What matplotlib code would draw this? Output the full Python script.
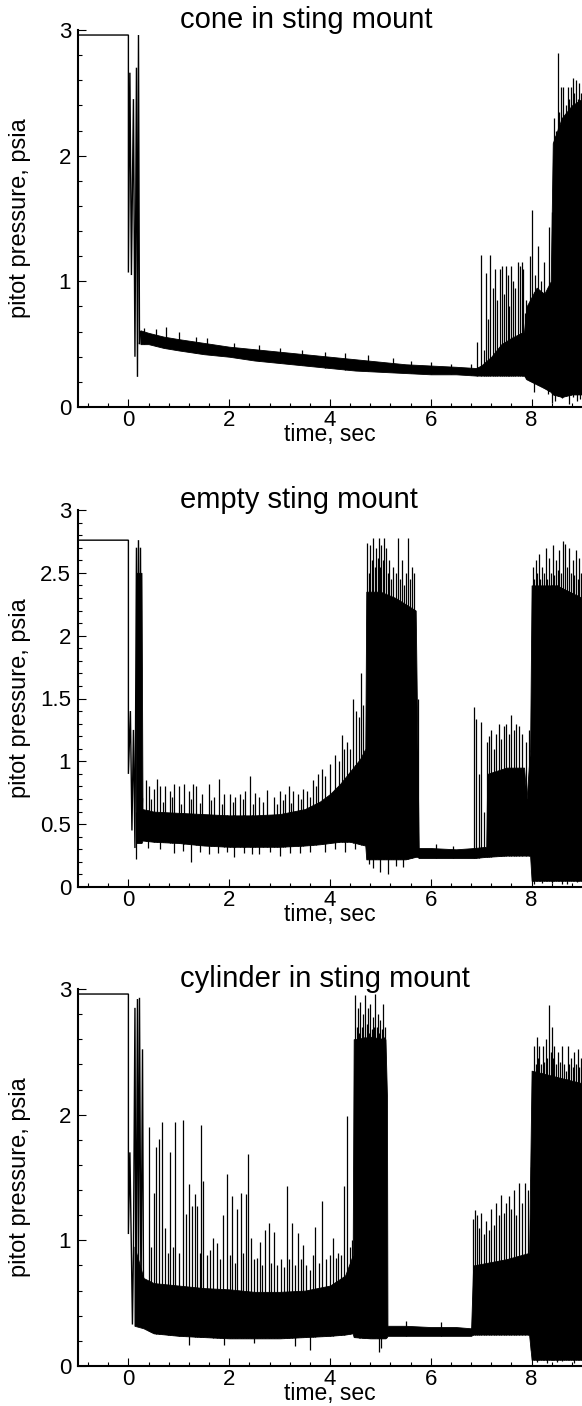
import numpy as np
import matplotlib
matplotlib.use("Agg")
import matplotlib.pyplot as plt
from matplotlib.ticker import FixedLocator, MultipleLocator

# ---------------------------------------------------------------- data
titles = ["cone in sting mount", "empty sting mount", "cylinder in sting mount"]
xlabel = "time, sec"
ylabel = "pitot pressure, psia"
xtick_values = [0, 2, 4, 6, 8]
xtick_labels = ["0", "2", "4", "6", "8"]
ytick_values_a = [0, 1, 2, 3]
ytick_labels_a = ["0", "1", "2", "3"]
ytick_values_b = [0, 0.5, 1, 1.5, 2, 2.5, 3]
ytick_labels_b = ["0", "0.5", "1", "1.5", "2", "2.5", "3"]

# cone in sting mount
cone_start_t = [-1.0, 0.0, 0.0, 0.03, 0.06, 0.10, 0.13, 0.16, 0.18, 0.20, 0.22, 0.24]
cone_start_p = [2.96, 2.96, 1.07, 2.66, 1.05, 2.45, 0.40, 2.70, 0.24, 2.96, 0.50, 0.60]
cone_band_t = [0.24, 0.4, 0.7, 1.0, 1.5, 2.0, 2.5, 3.0, 3.5, 4.0, 4.5, 5.0, 5.5, 6.0,
               6.5, 6.9, 7.0, 7.2, 7.4, 7.6, 7.85, 7.9, 8.1, 8.25, 8.38, 8.42,
               8.6, 8.8, 9.0]
cone_band_lo = [0.50, 0.50, 0.47, 0.45, 0.42, 0.40, 0.37, 0.35, 0.33, 0.31, 0.29, 0.28,
                0.27, 0.26, 0.26, 0.25, 0.25, 0.25, 0.25, 0.25, 0.25, 0.22, 0.18,
                0.15, 0.12, 0.10, 0.08, 0.10, 0.10]
cone_band_hi = [0.61, 0.59, 0.56, 0.54, 0.51, 0.48, 0.46, 0.44, 0.42, 0.40, 0.38, 0.36,
                0.34, 0.33, 0.32, 0.31, 0.33, 0.40, 0.50, 0.55, 0.60, 0.80, 0.95,
                0.90, 1.00, 2.10, 2.30, 2.40, 2.45]
cone_spike_t = [0.30, 0.55, 0.75, 1.00, 1.35, 1.55, 2.10, 2.60, 3.00, 3.45, 3.90, 4.30,
                4.75, 5.25, 5.60, 6.00, 6.40, 6.80,
                6.92, 7.00, 7.05, 7.10, 7.14, 7.18, 7.23, 7.28, 7.31, 7.37, 7.41, 7.45,
                7.49, 7.53, 7.56, 7.60, 7.63, 7.68, 7.73, 7.76, 7.80, 7.83, 7.86, 7.89,
                7.97, 8.01, 8.06, 8.12, 8.18, 8.24, 8.29, 8.34, 8.40,
                8.45, 8.49, 8.52, 8.55, 8.58, 8.62, 8.65, 8.68, 8.72, 8.75, 8.78, 8.82,
                8.85, 8.88, 8.92, 8.95, 8.98]
cone_spike_p = [0.63, 0.62, 0.64, 0.60, 0.56, 0.55, 0.51, 0.49, 0.47, 0.45, 0.44, 0.43,
                0.41, 0.39, 0.37, 0.36, 0.34, 0.34,
                0.52, 1.21, 0.45, 1.07, 0.70, 1.21, 0.95, 1.10, 0.85, 1.10, 1.12, 0.90,
                1.12, 1.05, 0.80, 1.12, 1.00, 0.95, 1.15, 1.12, 1.15, 1.10, 0.75, 0.85,
                1.20, 1.57, 1.05, 1.28, 1.00, 1.15, 0.85, 1.43, 1.00,
                2.30, 2.20, 2.82, 2.35, 2.55, 2.55, 2.30, 2.40, 2.55, 2.45, 2.55, 2.62,
                2.50, 2.60, 2.45, 2.58, 2.50]
cone_dip_t = [8.05, 8.20, 8.32, 8.40, 8.47, 8.53, 8.60, 8.68, 8.75, 8.83, 8.90, 8.97]
cone_dip_p = [0.12, 0.17, 0.10, 0.03, 0.05, 0.12, 0.07, 0.10, 0.02, 0.08, 0.05, 0.06]

# empty sting mount
empty_start_t = [-1.0, 0.0, 0.0, 0.04, 0.07, 0.10, 0.13, 0.16, 0.18, 0.20, 0.22, 0.24, 0.26, 0.28]
empty_start_p = [2.76, 2.76, 0.90, 1.40, 0.45, 1.25, 0.31, 2.70, 0.40, 2.76, 0.35, 2.70, 0.50, 0.70]
empty_band_t = [0.15, 0.16, 0.26, 0.28, 0.5, 1.0, 1.5, 2.0, 2.5, 3.0, 3.5, 3.8, 4.0,
                4.2, 4.4, 4.6, 4.70, 4.72, 5.0, 5.3, 5.5, 5.70, 5.74, 5.76, 6.0, 6.5,
                6.85, 7.10, 7.12, 7.5, 7.85, 7.90, 7.97, 8.0, 8.5, 9.0]
empty_band_lo = [0.35, 0.35, 0.35, 0.37, 0.36, 0.35, 0.33, 0.32, 0.32, 0.32, 0.33, 0.34,
                 0.35, 0.36, 0.36, 0.34, 0.33, 0.22, 0.22, 0.22, 0.22, 0.24, 0.24, 0.23,
                 0.23, 0.23, 0.23, 0.24, 0.24, 0.25, 0.25, 0.25, 0.25, 0.05, 0.05, 0.05]
empty_band_hi = [0.60, 2.50, 2.50, 0.62, 0.60, 0.59, 0.58, 0.57, 0.57, 0.58, 0.62, 0.68,
                 0.74, 0.82, 0.92, 1.02, 1.10, 2.35, 2.35, 2.30, 2.25, 2.20, 0.95, 0.31,
                 0.31, 0.30, 0.31, 0.32, 0.90, 0.95, 0.95, 0.70, 1.10, 2.40, 2.40, 2.30]
empty_spike_t = [0.34, 0.40, 0.50, 0.57, 0.63, 0.73, 0.83, 0.91, 1.00, 1.10, 1.20, 1.28,
                 1.35, 1.46, 1.59, 1.69, 1.79, 1.90, 2.02, 2.12, 2.22, 2.32, 2.42, 2.51,
                 2.60, 2.75, 2.88, 3.00, 3.11, 3.18, 3.27, 3.37, 3.46, 3.54, 3.67, 3.77,
                 3.84, 3.90, 4.00, 4.10, 4.17, 4.23, 4.28, 4.33, 4.40, 4.46, 4.52, 4.57,
                 4.62, 4.66,
                 0.45, 0.68, 0.87, 1.05, 1.24, 1.42, 1.64, 1.85, 2.07, 2.27, 2.47, 2.68,
                 2.94, 3.06, 3.23, 3.42, 3.60, 3.72,
                 4.74, 4.77, 4.80, 4.83, 4.86, 4.89, 4.92, 4.95, 4.97, 5.00, 5.02, 5.05,
                 5.08, 5.12, 5.15, 5.18, 5.22, 5.25, 5.30, 5.35, 5.38, 5.42, 5.46, 5.50,
                 5.55, 5.58, 5.62, 5.67, 5.74, 6.10, 6.45,
                 6.85, 6.90, 6.95, 7.00, 7.05, 7.12, 7.16, 7.20, 7.25, 7.30, 7.35, 7.40,
                 7.45, 7.50, 7.55, 7.60, 7.65, 7.70, 7.75, 7.80, 7.88, 7.95,
                 8.02, 8.05, 8.08, 8.11, 8.14, 8.17, 8.20, 8.24, 8.28, 8.31, 8.35, 8.38,
                 8.42, 8.45, 8.48, 8.52, 8.55, 8.58, 8.62, 8.67, 8.71, 8.75, 8.78, 8.82,
                 8.85, 8.88, 8.92, 8.95, 8.98]
empty_spike_p = [0.85, 0.80, 0.78, 0.86, 0.80, 0.80, 0.76, 0.82, 0.80, 0.82, 0.76, 0.82,
                 0.80, 0.74, 0.82, 0.72, 0.86, 0.74, 0.74, 0.72, 0.74, 0.76, 0.88, 0.75,
                 0.72, 0.77, 0.72, 0.76, 0.74, 0.80, 0.76, 0.74, 0.78, 0.76, 0.85, 0.90,
                 0.94, 0.88, 0.98, 1.05, 1.00, 1.21, 1.10, 1.15, 1.10, 1.50, 1.40, 1.35,
                 1.70, 1.45,
                 0.70, 0.68, 0.72, 0.66, 0.70, 0.67, 0.69, 0.66, 0.68, 0.70, 0.66, 0.68,
                 0.66, 0.69, 0.67, 0.70, 0.72, 0.80,
                 2.74, 2.50, 2.72, 2.60, 2.78, 2.55, 2.70, 2.62, 2.78, 2.55, 2.72, 2.60,
                 2.78, 2.70, 2.50, 2.60, 2.45, 2.55, 2.50, 2.78, 2.45, 2.60, 2.40, 2.50,
                 2.78, 2.45, 2.55, 2.50, 1.50, 0.34, 0.33,
                 1.43, 1.34, 0.90, 1.31, 0.60, 1.15, 1.20, 1.25, 1.10, 1.22, 1.30, 1.18,
                 1.28, 1.30, 1.22, 1.37, 1.25, 1.30, 1.28, 1.22, 1.15, 1.25,
                 2.55, 2.45, 2.60, 2.50, 2.65, 2.45, 2.55, 2.50, 2.70, 2.45, 2.62, 2.50,
                 2.72, 2.48, 2.60, 2.52, 2.68, 2.50, 2.75, 2.73, 2.55, 2.70, 2.50, 2.60,
                 2.48, 2.68, 2.45, 2.62, 2.50]
empty_dip_t = [0.15, 0.38, 0.62, 0.90, 1.08, 1.24, 1.42, 1.60, 1.78, 1.95, 2.10, 2.30,
               2.45, 2.60, 2.80, 3.00, 3.20, 3.40, 3.60, 3.90, 4.10, 4.30, 4.50,
               4.78, 4.85, 5.00, 5.15, 5.30, 5.45, 8.05, 8.10, 8.20, 8.30, 8.40, 8.50,
               8.60, 8.70, 8.80, 8.90]
empty_dip_p = [0.22, 0.31, 0.30, 0.27, 0.29, 0.20, 0.28, 0.26, 0.27, 0.28, 0.24, 0.27,
               0.26, 0.26, 0.28, 0.25, 0.27, 0.27, 0.28, 0.28, 0.30, 0.28, 0.30,
               0.18, 0.15, 0.12, 0.10, 0.17, 0.16, 0.02, 0.08, 0.03, 0.10, 0.03, 0.08,
               0.02, 0.02, 0.07, 0.04]

# cylinder in sting mount
cyl_start_t = [-1.0, 0.0, 0.0, 0.03, 0.06, 0.08, 0.10, 0.13, 0.15, 0.18, 0.20, 0.22, 0.25, 0.28, 0.30]
cyl_start_p = [2.96, 2.96, 1.05, 1.70, 0.90, 0.33, 0.90, 2.85, 0.40, 2.92, 0.60, 2.93, 0.50, 2.52, 0.60]
cyl_band_t = [0.12, 0.3, 0.5, 1.0, 1.5, 2.0, 2.5, 3.0, 3.5, 4.0, 4.3, 4.45, 4.47, 4.8,
              5.1, 5.13, 5.14, 5.5, 6.0, 6.5, 6.80, 6.84, 7.5, 7.95, 8.0, 8.5, 9.0]
cyl_band_lo = [0.32, 0.30, 0.26, 0.24, 0.23, 0.22, 0.22, 0.22, 0.23, 0.24, 0.25, 0.26,
               0.23, 0.22, 0.22, 0.23, 0.24, 0.24, 0.24, 0.24, 0.24, 0.25, 0.25, 0.25,
               0.05, 0.05, 0.05]
cyl_band_hi = [0.95, 0.70, 0.66, 0.64, 0.62, 0.61, 0.59, 0.59, 0.60, 0.64, 0.72, 0.88,
               2.60, 2.62, 2.60, 2.15, 0.32, 0.32, 0.31, 0.31, 0.30, 0.80, 0.85, 0.90,
               2.35, 2.30, 2.25]
cyl_spike_t = [0.40, 0.45, 0.50, 0.55, 0.61, 0.67, 0.72, 0.78, 0.83, 0.88, 0.93, 1.00,
               1.08, 1.14, 1.21, 1.26, 1.33, 1.37, 1.42, 1.45, 1.48, 1.55, 1.62, 1.68,
               1.76, 1.82, 1.88, 1.96, 2.01, 2.06, 2.11, 2.16, 2.23, 2.28, 2.34, 2.38,
               2.43, 2.49, 2.55, 2.61, 2.66, 2.71, 2.78, 2.83, 2.88, 2.95, 3.02, 3.08,
               3.14, 3.19, 3.24, 3.30, 3.37, 3.42, 3.47, 3.53, 3.60, 3.66, 3.71, 3.78,
               3.85, 3.92, 4.00, 4.06, 4.11, 4.16, 4.22, 4.28, 4.34, 4.39, 4.43,
               4.50, 4.53, 4.55, 4.58, 4.60, 4.63, 4.65, 4.68, 4.70, 4.73, 4.75, 4.78,
               4.80, 4.83, 4.85, 4.88, 4.90, 4.93, 4.95, 4.98, 5.00, 5.03, 5.05, 5.08,
               5.10, 5.50, 6.20,
               6.83, 6.87, 6.92, 6.96, 7.00, 7.05, 7.10, 7.15, 7.20, 7.25, 7.30, 7.35,
               7.40, 7.45, 7.50, 7.55, 7.60, 7.65, 7.70, 7.75, 7.80, 7.86, 7.92, 7.98,
               8.05, 8.08, 8.10, 8.13, 8.15, 8.18, 8.22, 8.25, 8.28, 8.31, 8.35, 8.38,
               8.40, 8.43, 8.45, 8.49, 8.52, 8.56, 8.60, 8.65, 8.69, 8.72, 8.75, 8.78,
               8.82, 8.85, 8.88, 8.92, 8.95, 8.98]
cyl_spike_p = [1.90, 0.95, 1.38, 1.74, 1.81, 1.94, 1.10, 0.90, 1.70, 0.95, 1.94, 0.90,
               1.96, 1.21, 1.45, 1.27, 1.37, 1.27, 0.90, 1.92, 1.47, 0.88, 0.92, 1.02,
               0.98, 0.85, 1.20, 1.53, 0.88, 1.35, 0.82, 1.25, 1.38, 0.90, 1.37, 1.69,
               1.02, 0.85, 0.86, 0.99, 0.80, 1.08, 1.14, 0.82, 1.07, 0.80, 0.85, 0.79,
               1.43, 0.85, 1.14, 0.80, 1.06, 0.85, 0.96, 0.80, 0.76, 0.88, 1.11, 0.82,
               1.31, 0.85, 0.88, 1.02, 0.86, 0.90, 0.88, 1.43, 1.99, 0.95, 1.00,
               2.95, 2.70, 2.85, 2.65, 2.90, 2.70, 2.80, 2.62, 2.95, 2.72, 2.85, 2.65,
               2.88, 2.68, 2.78, 2.70, 2.96, 2.70, 2.80, 2.65, 2.75, 2.68, 2.88, 2.62,
               2.70, 0.36, 0.35,
               1.17, 1.24, 1.20, 1.10, 1.22, 1.05, 1.15, 1.08, 1.25, 1.12, 1.30, 1.20,
               1.36, 1.22, 1.30, 1.35, 1.25, 1.40, 1.20, 1.46, 1.30, 1.46, 1.40, 1.58,
               2.55, 2.40, 2.62, 2.45, 2.55, 2.40, 2.55, 2.42, 2.60, 2.45, 2.87, 2.50,
               2.70, 2.45, 2.55, 2.40, 2.50, 2.42, 2.55, 2.40, 2.35, 2.55, 2.40, 2.45,
               2.38, 2.50, 2.40, 2.52, 2.38, 2.45]
cyl_dip_t = [1.20, 1.90, 2.50, 3.30, 3.60, 4.98, 5.02, 8.05, 8.10, 8.20, 8.30, 8.40,
             8.50, 8.60, 8.70, 8.85, 8.95]
cyl_dip_p = [0.17, 0.17, 0.18, 0.16, 0.13, 0.11, 0.14, 0.10, 0.03, 0.08, 0.02, 0.06,
             0.03, 0.04, 0.08, 0.02, 0.06]

records = [
    (cone_start_t, cone_start_p, cone_band_t, cone_band_lo, cone_band_hi,
     cone_spike_t, cone_spike_p, cone_dip_t, cone_dip_p),
    (empty_start_t, empty_start_p, empty_band_t, empty_band_lo, empty_band_hi,
     empty_spike_t, empty_spike_p, empty_dip_t, empty_dip_p),
    (cyl_start_t, cyl_start_p, cyl_band_t, cyl_band_lo, cyl_band_hi,
     cyl_spike_t, cyl_spike_p, cyl_dip_t, cyl_dip_p),
]
yticks = [(ytick_values_a, ytick_labels_a, 0.2),
          (ytick_values_b, ytick_labels_b, 0.1),
          (ytick_values_a, ytick_labels_a, 0.2)]

# ---------------------------------------------------------------- figure
W, H = 582, 1406
plt.rcParams["font.family"] = ["Liberation Sans", "DejaVu Sans"]
fig = plt.figure(figsize=(W / 100, H / 100), dpi=100)

panel_px = [(30, 407), (510, 887), (989, 1366)]   # top / bottom of each plot area
left_px, right_px = 78, 582

for i, (top, bot) in enumerate(panel_px):
    ax = fig.add_axes([left_px / W, (H - bot) / H, (right_px - left_px) / W, (bot - top) / H])
    st, sp, bt, blo, bhi, kt, kp, dt, dp = records[i]

    ax.plot(st, sp, color="black", lw=1.0, solid_joinstyle="miter")
    ax.fill_between(bt, blo, bhi, color="black", lw=0.6, edgecolor="black")
    base_lo = np.interp(kt, bt, blo)
    ax.vlines(kt, base_lo, kp, color="black", lw=0.9)
    base_hi = np.interp(dt, bt, bhi)
    ax.vlines(dt, dp, base_hi, color="black", lw=0.9)

    ax.set_xlim(-1, 9)
    ax.set_ylim(0, 3)
    for s in ("top", "right"):
        ax.spines[s].set_visible(False)
    for s in ("left", "bottom"):
        ax.spines[s].set_linewidth(1.5)

    ax.xaxis.set_major_locator(FixedLocator(xtick_values))
    ax.set_xticklabels(xtick_labels)
    ax.xaxis.set_minor_locator(MultipleLocator(0.4))
    yv, yl, ym = yticks[i]
    ax.yaxis.set_major_locator(FixedLocator(yv))
    ax.set_yticklabels(yl)
    ax.yaxis.set_minor_locator(MultipleLocator(ym))

    ax.tick_params(which="both", direction="in", top=False, right=False,
                   labelsize=16, width=0.8, color="black")
    ax.tick_params(which="major", length=6)
    ax.tick_params(which="minor", length=3.2)
    ax.tick_params(axis="x", pad=2)
    ax.tick_params(axis="y", pad=5)

    h = bot - top
    ax.text(0.5, -34 / h, xlabel, transform=ax.transAxes, ha="center", va="baseline",
            fontsize=16.5)
    ax.text((20 - left_px) / (right_px - left_px), 0.5, ylabel, transform=ax.transAxes,
            rotation=90, ha="center", va="center", fontsize=17)
    ax.text((180 - left_px) / (right_px - left_px), 1 + 2 / h, titles[i],
            transform=ax.transAxes, ha="left", va="baseline", fontsize=21)

fig.savefig("out.png", dpi=100)
